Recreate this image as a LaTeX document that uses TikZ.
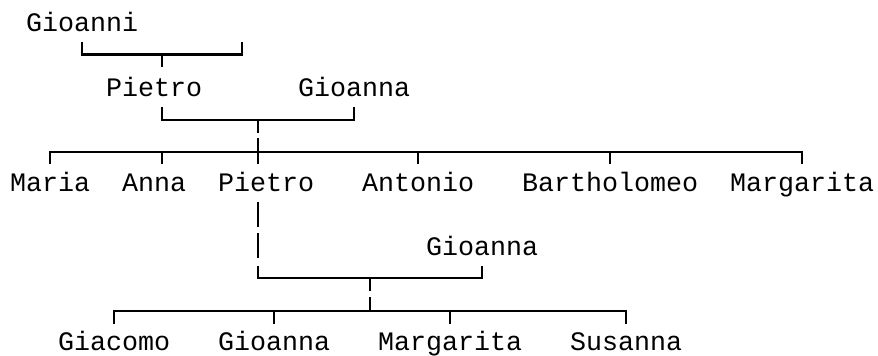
\documentclass[tikz,border=0pt]{standalone}
\usepackage{fontspec}
\newfontfamily\treefont{Liberation Mono}
\begin{document}
\begin{tikzpicture}[x=1pt,y=-1pt,
  person/.style={anchor=base west,inner sep=0pt,outer sep=0pt,font=\treefont\fontsize{26.67}{30}\selectfont,text=black},
  link/.style={draw=black,line width=2.1pt,line join=miter,line cap=butt}]
\useasboundingbox (0,0) rectangle (878,356);
% names
\node[person] (gioanni) at (26,31.7) {Gioanni};
\node[person] (pietroA) at (106,96.7) {Pietro};
\node[person] (gioannaA) at (298,96.7) {Gioanna};
\node[person] (maria) at (10,191.7) {Maria};
\node[person] (anna) at (122,191.7) {Anna};
\node[person] (pietroB) at (218,191.7) {Pietro};
\node[person] (antonio) at (362,191.7) {Antonio};
\node[person] (bartholomeo) at (522,191.7) {Bartholomeo};
\node[person] (margaritaA) at (730,191.7) {Margarita};
\node[person] (gioannaB) at (426,255) {Gioanna};
\node[person] (giacomo) at (58,350) {Giacomo};
\node[person] (gioannaC) at (218,350) {Gioanna};
\node[person] (margaritaB) at (378,350) {Margarita};
\node[person] (susanna) at (570,350) {Susanna};
% first couple
\coordinate (m1l) at (82,41.7);
\coordinate (m1r) at (242,41.7);
\coordinate (m1c) at (162,54.5);
\draw[link] (m1l) -- (82,54.5) -- (242,54.5) -- (m1r);
\draw[link] (m1c) -- (162,66.5);
% second couple
\coordinate (m2l) at (162,106.5);
\coordinate (m2r) at (354,106.5);
\coordinate (m2c) at (258,120);
\draw[link] (m2l) -- (162,120) -- (354,120) -- (m2r);
\draw[link] (m2c) -- (258,133);
% children row
\draw[link] (50,163.8) -- (50,151.7) -- (802,151.7) -- (802,163.8);
\draw[link] (258,138) -- (258,163.8);
\foreach \x in {162,418,610} \draw[link] (\x,151.7) -- (\x,163.8);
% Pietro descent
\draw[link] (258,201.7) -- (258,226.7);
\draw[link] (258,233.3) -- (258,258.3);
\coordinate (m3l) at (258,265.5);
\coordinate (m3r) at (482,265.5);
\draw[link] (m3l) -- (258,278.3) -- (482,278.3) -- (m3r);
\draw[link] (370,278.3) -- (370,290.5);
% grandchildren row
\draw[link] (370,297) -- (370,310.7);
\draw[link] (114,324) -- (114,310.7) -- (626,310.7) -- (626,324);
\foreach \x in {274,450} \draw[link] (\x,310.7) -- (\x,324);
\end{tikzpicture}
\end{document}
